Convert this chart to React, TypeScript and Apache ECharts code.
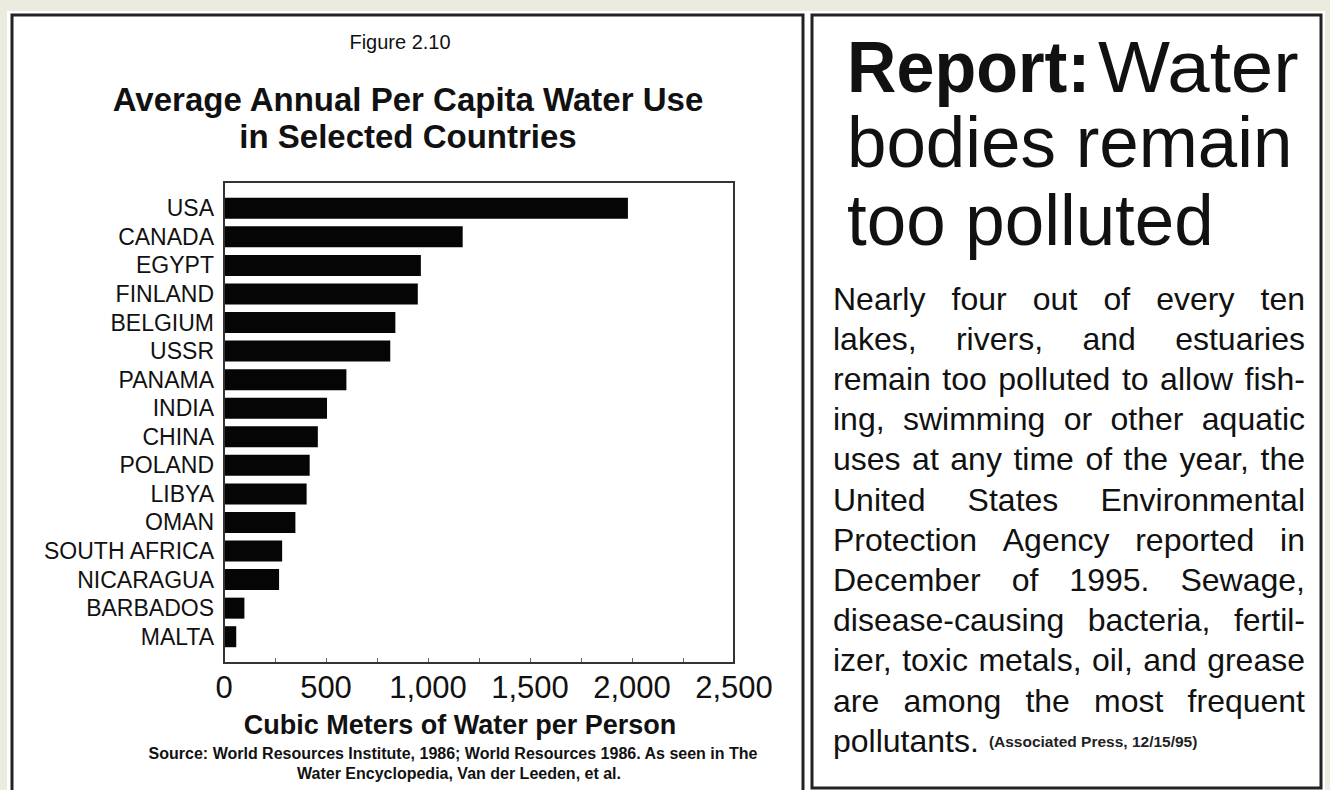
import React, { useEffect, useRef } from "react";
import * as echarts from "echarts";

// ---- data ----
const countries = [
  "USA", "CANADA", "EGYPT", "FINLAND", "BELGIUM", "USSR", "PANAMA", "INDIA",
  "CHINA", "POLAND", "LIBYA", "OMAN", "SOUTH AFRICA", "NICARAGUA", "BARBADOS", "MALTA",
];
const waterUse = [1980, 1170, 965, 950, 840, 815, 600, 505, 460, 420, 405, 350, 285, 270, 100, 60];
const axisMin = 0;
const axisMax = 2500;
const labelStep = 500;

const figureLabel = "Figure 2.10";
const titleLines = ["Average Annual Per Capita Water Use", "in Selected Countries"];
const axisTitle = "Cubic Meters of Water per Person";
const sourceLines = [
  "Source: World Resources Institute, 1986; World Resources 1986. As seen in The",
  "Water Encyclopedia, Van der Leeden, et al.",
];
const headlineBold = "Report:";
const headlineLines = ["Water", "bodies remain", "too polluted"];
const bodyLines = [
  "Nearly four out of every ten",
  "lakes, rivers, and estuaries",
  "remain too polluted to allow fish-",
  "ing, swimming or other aquatic",
  "uses at any time of the year, the",
  "United States Environmental",
  "Protection Agency reported in",
  "December of 1995. Sewage,",
  "disease-causing bacteria, fertil-",
  "izer, toxic metals, oil, and grease",
  "are among the most frequent",
  "pollutants.",
];
const citation = "(Associated Press, 12/15/95)";

const FONT = '"Liberation Sans", Arial, Helvetica, sans-serif';
const INK = "#111";

function measure(text: string, font: string): number {
  const c = document.createElement("canvas").getContext("2d");
  if (!c) return text.length * 15;
  c.font = font;
  return c.measureText(text).width;
}

function txt(x: number, y: number, text: string, size: number, opts: any = {}) {
  return {
    type: "text",
    x,
    y,
    z: 20,
    scaleX: opts.scaleX ?? 1,
    silent: true,
    style: {
      text,
      fill: opts.fill ?? INK,
      fontSize: size,
      fontFamily: FONT,
      fontWeight: opts.weight ?? "normal",
      textAlign: opts.align ?? "left",
      textVerticalAlign: "middle",
    },
  };
}

function buildGraphics() {
  const g: any[] = [];
  // page and panels
  g.push({ type: "rect", z: -10, silent: true, shape: { x: 7, y: 11, width: 1318, height: 790 }, style: { fill: "#fff" } });
  g.push({ type: "rect", z: -9, silent: true, shape: { x: 12, y: 15, width: 791, height: 800 }, style: { fill: "#fff", stroke: "#222", lineWidth: 3 } });
  g.push({ type: "rect", z: -9, silent: true, shape: { x: 812, y: 15, width: 509, height: 773 }, style: { fill: "#fff", stroke: "#222", lineWidth: 3 } });
  // plot box
  g.push({ type: "rect", z: 10, silent: true, shape: { x: 224, y: 182, width: 510, height: 481 }, style: { fill: "none", stroke: "#333", lineWidth: 2 } });

  // left panel texts
  g.push(txt(400, 42, figureLabel, 20, { align: "center" }));
  g.push(txt(408, 99, titleLines[0], 33, { align: "center", weight: "bold" }));
  g.push(txt(408, 136, titleLines[1], 33, { align: "center", weight: "bold" }));
  g.push(txt(460, 725, axisTitle, 27, { align: "center", weight: "bold" }));
  g.push(txt(453, 753, sourceLines[0], 16, { align: "center", weight: "bold" }));
  g.push(txt(459, 773, sourceLines[1], 16, { align: "center", weight: "bold" }));

  // headline
  g.push(txt(847, 67, headlineBold, 72, { weight: "bold", scaleX: 0.95 }));
  g.push(txt(1098, 67, headlineLines[0], 72, { scaleX: 1.06 }));
  g.push(txt(847, 142, headlineLines[1], 72, { scaleX: 0.985 }));
  g.push(txt(847, 220, headlineLines[2], 72, { scaleX: 0.985 }));

  // justified body
  const left = 833;
  const right = 1305;
  const size = 32;
  const font = `${size}px ${FONT}`;
  bodyLines.forEach((line, i) => {
    const y = 298.6 + 40.2 * i;
    const words = line.split(" ");
    if (i === bodyLines.length - 1) {
      g.push(txt(left, y, line, size));
      const w = measure(line, font);
      g.push(txt(left + w + 10, y + 1, citation, 15.5, { fill: "#222", weight: "bold" }));
      return;
    }
    const widths = words.map((w) => measure(w, font));
    const total = widths.reduce((a, b) => a + b, 0);
    const gap = (right - left - total) / (words.length - 1);
    let x = left;
    words.forEach((w, k) => {
      g.push(txt(x, y, w, size));
      x += widths[k] + gap;
    });
  });
  return g;
}

export default function App() {
  const ref = useRef<HTMLDivElement>(null);
  useEffect(() => {
    if (!ref.current) return;
    const chart = echarts.init(ref.current, undefined, { renderer: "svg" });
    const option: any = {
      animation: false,
      backgroundColor: "#ebebdf",
      grid: { left: 224, top: 194, width: 510, height: 457, containLabel: false, outerBoundsMode: "none" },
      xAxis: {
        type: "value",
        min: axisMin,
        max: axisMax,
        interval: labelStep,
        position: "bottom",
        offset: 12,
        axisLine: { show: false },
        splitLine: { show: false },
        axisTick: { show: true, inside: true, length: 5, lineStyle: { color: "#666", width: 1 } },
        minorTick: { show: true, splitNumber: 2, length: 5, lineStyle: { color: "#666", width: 1 } },
        axisLabel: {
          margin: 9,
          fontSize: 31,
          color: INK,
          fontFamily: FONT,
          formatter: (v: number) => v.toLocaleString("en-US"),
        },
      },
      yAxis: {
        type: "category",
        data: countries,
        inverse: true,
        axisLine: { show: false },
        axisTick: { show: false },
        splitLine: { show: false },
        axisLabel: { interval: 0, fontSize: 23, color: INK, margin: 10, fontFamily: FONT },
      },
      series: [
        {
          type: "bar",
          data: waterUse,
          barWidth: 21,
          silent: true,
          itemStyle: { color: "#050505" },
        },
      ],
      graphic: buildGraphics(),
    };
    chart.setOption(option);
    return () => chart.dispose();
  }, []);
  return (
    <div
      ref={ref}
      style={{ position: "absolute", left: 0, top: 0, width: 1330, height: 790 }}
    />
  );
}
